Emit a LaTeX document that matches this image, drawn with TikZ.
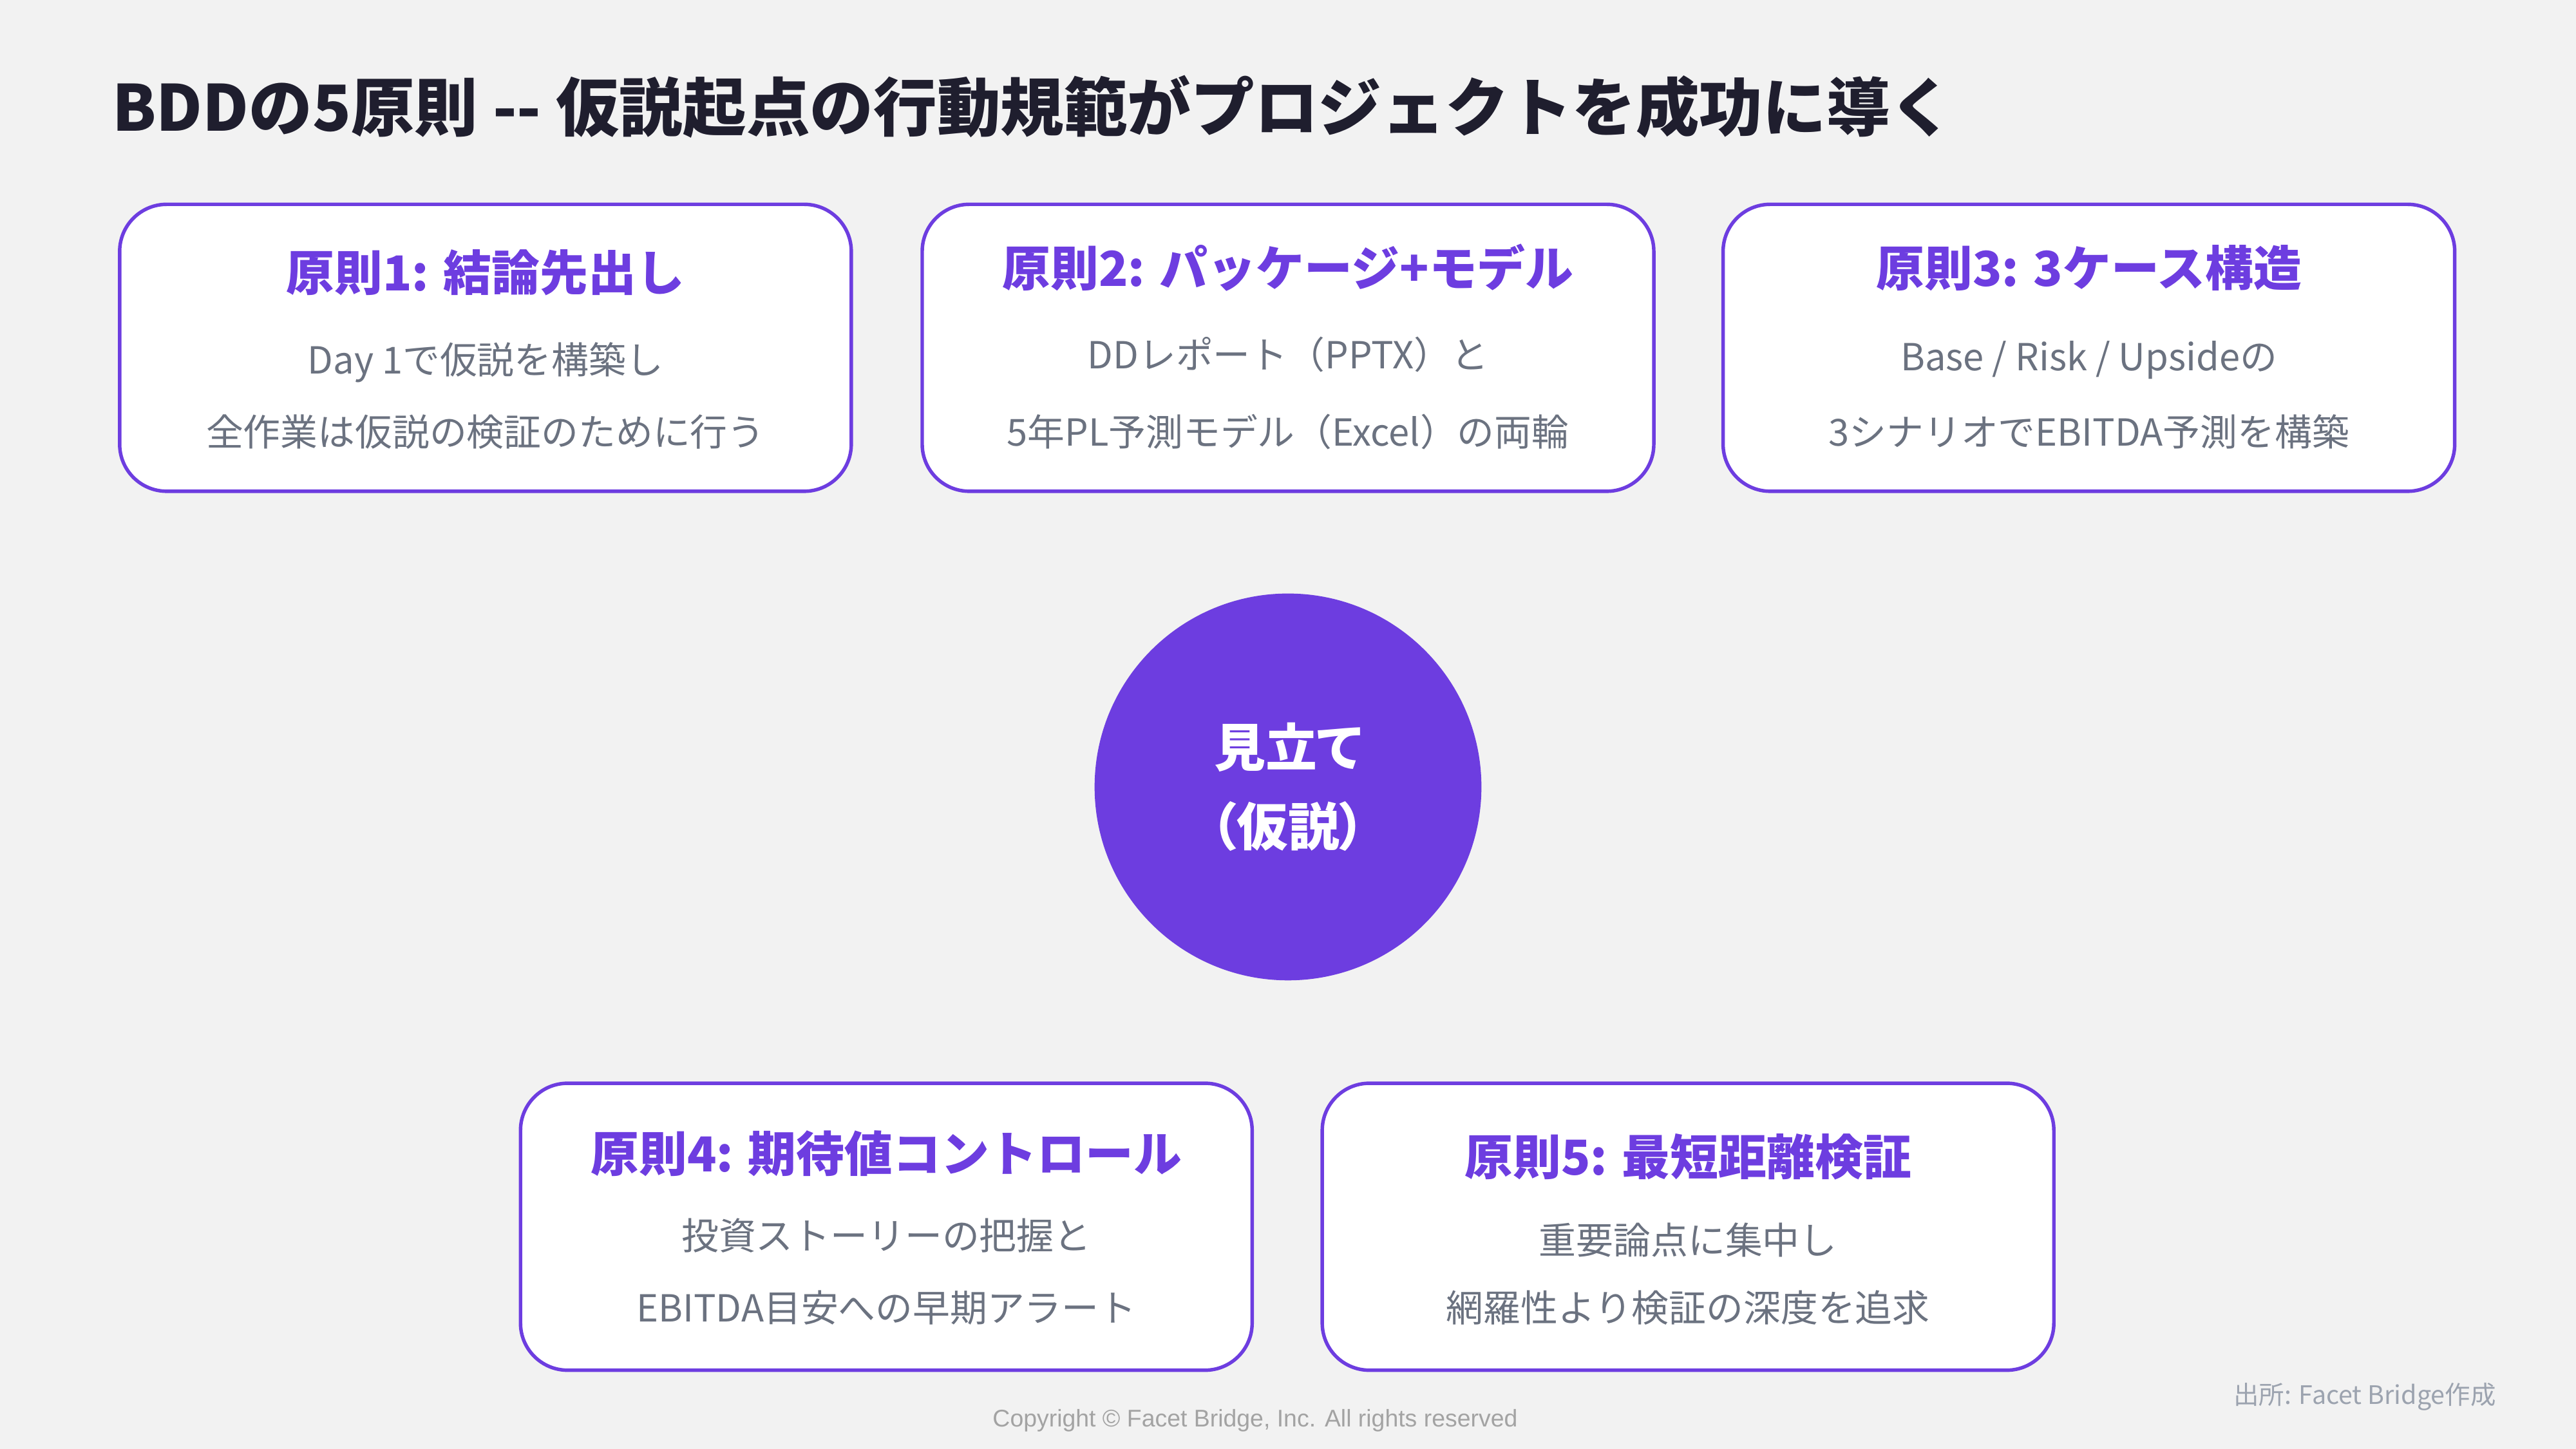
\documentclass[tikz,border=0pt]{standalone}
\usepackage{fontspec}
\setmainfont{Noto Sans CJK JP}
\newfontfamily\paltfont[RawFeature=+palt]{Noto Sans CJK JP}
\newfontfamily\latinfont{Liberation Sans}
\definecolor{bgc}{HTML}{F2F2F2}
\definecolor{purp}{HTML}{6D3DE0}
\definecolor{titlec}{HTML}{1F1E2E}
\definecolor{bodyc}{HTML}{6B7280}
\definecolor{copyc}{HTML}{A3A3A3}
\definecolor{srcc}{HTML}{9CA3AF}
\begin{document}
\begin{tikzpicture}[x=0.75pt,y=-0.75pt,
  card/.style={draw=purp, line width=1.6pt, fill=white, rounded corners=21.5pt,
    minimum width=334pt, minimum height=131pt, inner sep=0pt},
  cardtitle/.style={anchor=base, inner sep=0pt, text=purp,
    font=\fontsize{22}{26}\selectfont\bfseries},
  cardbody/.style={anchor=base, inner sep=0pt, text=bodyc,
    font=\fontsize{17}{20}\selectfont},
  hub/.style={circle, fill=purp, minimum size=176.6pt, inner sep=0pt},
  hubtext/.style={anchor=base, inner sep=0pt, text=white,
    font=\paltfont\fontsize{23.5}{28}\selectfont\bfseries}
]
\fill[bgc] (0,0) rectangle (1568,882);
\useasboundingbox (0,0) rectangle (1568,882);

% title
\node[anchor=base west, inner sep=0pt, text=titlec,
  font=\fontsize{29}{34}\selectfont\bfseries] (title) at (68,79.7)
  {BDDの5原則 -{}- 仮説起点の行動規範がプロジェクトを成功に導く};

% cards
\node[card] (c1) at (295.5,211.7) {};
\node[card] (c2) at (784,211.7) {};
\node[card] (c3) at (1271.5,211.7) {};
\node[card] (c4) at (539.5,746.7) {};
\node[card] (c5) at (1027.5,746.7) {};

\node[cardtitle] (t1) at (295.5,177.1) {原則1: 結論先出し};
\node[cardbody] (a1) at (295.5,227.6) {Day 1で仮説を構築し};
\node[cardbody] (b1) at (295.5,271.6) {全作業は仮説の検証のために行う};

\node[cardtitle] (t2) at (784,174.1) {原則2: パッケージ+モデル};
\node[cardbody] (a2) at (784,224.6) {DDレポート（PPTX）と};
\node[cardbody] (b2) at (784,271.6) {5年PL予測モデル（Excel）の両輪};

\node[cardtitle] (t3) at (1271.5,174.1) {原則3: 3ケース構造};
\node[cardbody] (a3) at (1271.5,225.6) {Base / Risk / Upsideの};
\node[cardbody] (b3) at (1271.5,271.6) {3シナリオでEBITDA予測を構築};

\node[cardtitle] (t4) at (539.5,713.1) {原則4: 期待値コントロール};
\node[cardbody] (a4) at (539.5,760.6) {投資ストーリーの把握と};
\node[cardbody] (b4) at (539.5,804.6) {EBITDA目安への早期アラート};

\node[cardtitle] (t5) at (1027.5,715.1) {原則5: 最短距離検証};
\node[cardbody] (a5) at (1027.5,763.6) {重要論点に集中し};
\node[cardbody] (b5) at (1027.5,804.6) {網羅性より検証の深度を追求};

% hub
\node[hub] (hub) at (784,479) {};
\node[hubtext] (h1) at (784,466.7) {見立て};
\node[hubtext] (h2) at (784,514.7) {（仮説）};

% footer
\node[anchor=base, inner sep=0pt, text=copyc,
  font=\latinfont\fontsize{11}{13}\selectfont] (copy) at (764,868.3)
  {Copyright © Facet Bridge, Inc. All rights reserved};
\node[anchor=base east, inner sep=0pt, text=srcc,
  font=\fontsize{11.6}{14}\selectfont] (src) at (1519.5,854.9)
  {出所: Facet Bridge作成};
\end{tikzpicture}
\end{document}
